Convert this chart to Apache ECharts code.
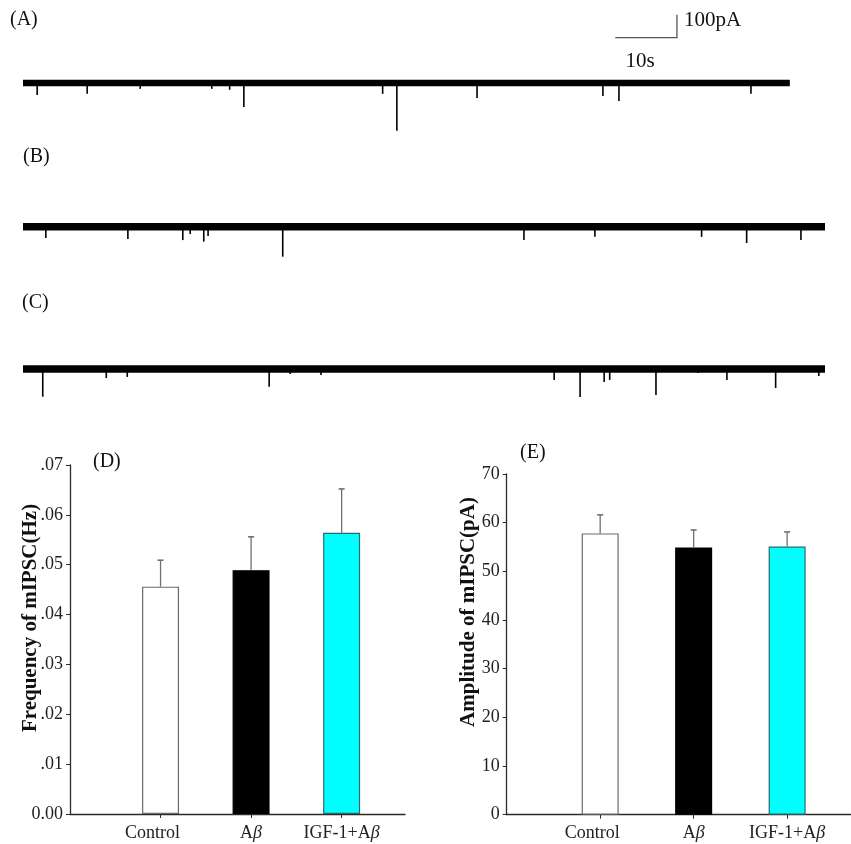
<!DOCTYPE html>
<html><head><meta charset="utf-8">
<script src="https://cdn.jsdelivr.net/npm/echarts@6/dist/echarts.min.js"></script>
<style>html,body{margin:0;padding:0;background:#fff}#c{width:851px;height:844px}</style>
</head><body><div id="c"></div>
<script>
// ---------- Trace data (time in s, event amplitude in pA, downward) ----------
const traceDurations = [124.3, 130, 130];
const traceA_times = [2.3, 10.4, 19.0, 30.6, 33.5, 35.8, 58.3, 60.6, 73.6, 94.0, 96.6, 118.0];
const traceA_amps  = [53, 48, 26, 26, 30, 106, 48, 211, 66, 57, 79, 48];
const traceB_times = [3.7, 17.0, 25.9, 27.1, 29.3, 30.0, 42.1, 81.2, 92.7, 110.0, 117.3, 126.1];
const traceB_amps  = [50, 54, 59, 32, 66, 41, 132, 59, 44, 45, 72, 59];
const traceC_times = [3.2, 13.5, 16.9, 39.9, 43.3, 48.3, 86.1, 90.3, 94.2, 95.1, 102.6, 109.4, 114.1, 122.0, 129.0];
const traceC_amps  = [122, 40, 35, 78, 22, 26, 48, 123, 57, 48, 115, 18, 48, 84, 31];
const scaleBarTime = [96, 106];   // 10 s
const scaleBarCurrent = [200, 300]; // 100 pA

// ---------- Bar chart data ----------
const categories = ['Control', 'Aβ', 'IGF-1+Aβ'];
const positions = [1, 2, 3];
const freqMean = [0.0456, 0.0489, 0.0564];
const freqSem  = [0.0053, 0.0067, 0.0088];
const ampMean  = [57.8, 54.9, 55.1];
const ampSem   = [3.8, 3.6, 3.0];
const freqTickLabels = ['0.00', '.01', '.02', '.03', '.04', '.05', '.06', '.07'];

const barFill   = ['#ffffff', '#000000', '#00ffff'];
const barBorder = ['#6a6a6a', '#000000', '#2b6b6b'];
const FONT = 'Liberation Serif';
const AX = '#2a2a2a';

const chart = echarts.init(document.getElementById('c'), null, {renderer: 'canvas'});

const traceGrids = [
  {left: 23, top: 3.5, width: 802, height: 136.2},
  {left: 23, top: 204, width: 802, height: 56.75},
  {left: 23, top: 346.3, width: 802, height: 56.75}
];
const traceYRanges = [[-250, 350], [-150, 100], [-150, 100]];
const traceTimes = [traceA_times, traceB_times, traceC_times];
const traceAmps = [traceA_amps, traceB_amps, traceC_amps];
const bandWidths = [6.5, 7.5, 7.5];

const grids = traceGrids.map(g => Object.assign({outerBoundsMode: 'none', containLabel: false}, g));
grids.push({left: 70, top: 465, width: 335, height: 349, outerBoundsMode: 'none', containLabel: false});
grids.push({left: 506.7, top: 474, width: 344, height: 340.7, outerBoundsMode: 'none', containLabel: false});

const xAxes = [], yAxes = [], series = [];
for (let i = 0; i < 3; i++) {
  xAxes.push({gridIndex: i, type: 'value', min: 0, max: 130, show: false});
  yAxes.push({gridIndex: i, type: 'value', min: traceYRanges[i][0], max: traceYRanges[i][1], show: false});
  series.push({
    type: 'line', xAxisIndex: i, yAxisIndex: i, silent: true, symbol: 'none', animation: false,
    data: [[0, 0], [traceDurations[i], 0]],
    lineStyle: {color: '#000', width: bandWidths[i], cap: 'butt'}
  });
  series.push({
    type: 'custom', xAxisIndex: i, yAxisIndex: i, silent: true, animation: false,
    encode: {x: 0, y: 1},
    data: traceTimes[i].map((t, k) => [t, traceAmps[i][k]]),
    renderItem: function (params, api) {
      const t = api.value(0), a = api.value(1);
      const p0 = api.coord([t, 0]), p1 = api.coord([t, -a]);
      return {type: 'line', shape: {x1: p0[0], y1: p0[1], x2: p1[0], y2: p1[1]},
              style: {stroke: '#000', lineWidth: 1.6}};
    }
  });
}
// scale bar in trace A coordinates
series.push({
  type: 'custom', xAxisIndex: 0, yAxisIndex: 0, silent: true, animation: false,
  encode: {x: 0, y: 1},
  data: [[scaleBarTime[0], scaleBarCurrent[0]]],
  renderItem: function (params, api) {
    const a = api.coord([scaleBarTime[0], scaleBarCurrent[0]]);
    const b = api.coord([scaleBarTime[1], scaleBarCurrent[0]]);
    const c = api.coord([scaleBarTime[1], scaleBarCurrent[1]]);
    return {type: 'polyline', shape: {points: [a, b, c]}, style: {stroke: '#555', lineWidth: 1.3, fill: null}};
  }
});

function barAxes(gi, max, yMax, yInterval, yFormatter) {
  xAxes.push({
    gridIndex: gi, type: 'value', min: 0, max: max, splitLine: {show: false},
    axisLine: {show: true, onZero: false, lineStyle: {color: AX, width: 1.3}},
    axisTick: {show: true, customValues: positions, length: 4, lineStyle: {color: AX, width: 1}},
    axisLabel: {
      customValues: positions, margin: 10, fontFamily: FONT, fontSize: 18, color: '#222',
      formatter: v => {
        const s = categories[Math.round(v) - 1] || '';
        if (s === 'Control') return '{c|' + s + '}';
        return s.replace('β', '{it|β}');
      },
      rich: {
        it: {fontFamily: FONT, fontStyle: 'italic', fontSize: 18, color: '#222'},
        c: {fontFamily: FONT, fontSize: 18, color: '#222', padding: [0, 16, 0, 0]}
      }
    }
  });
  yAxes.push({
    gridIndex: gi, type: 'value', min: 0, max: yMax, interval: yInterval, splitLine: {show: false},
    axisLine: {show: true, lineStyle: {color: AX, width: 1.3}},
    axisTick: {show: true, length: 4, lineStyle: {color: AX, width: 1}},
    axisLabel: {margin: 7, fontFamily: FONT, fontSize: 18, color: '#222', formatter: yFormatter}
  });
}
barAxes(3, 3.7, 0.07, 0.01, v => freqTickLabels[Math.round(v * 100)]);
barAxes(4, 3.68, 70, 10, v => String(Math.round(v)));

function barSeries(axisIdx, means, sems) {
  series.push({
    type: 'bar', xAxisIndex: axisIdx, yAxisIndex: axisIdx, barWidth: 37, animation: false, silent: true,
    data: positions.map((p, i) => ({value: [p, means[i]],
      itemStyle: {color: barFill[i], borderColor: barBorder[i], borderWidth: 1.2}}))
  });
  series.push({
    type: 'custom', xAxisIndex: axisIdx, yAxisIndex: axisIdx, silent: true, animation: false, z: 3,
    encode: {x: 0, y: [1, 2]},
    data: positions.map((p, i) => [p, means[i], means[i] + sems[i]]),
    renderItem: function (params, api) {
      const x = api.value(0);
      const lo = api.coord([x, api.value(1)]), hi = api.coord([x, api.value(2)]);
      return {type: 'group', children: [
        {type: 'line', shape: {x1: lo[0], y1: lo[1], x2: hi[0], y2: hi[1]}, style: {stroke: '#707070', lineWidth: 1.3}},
        {type: 'line', shape: {x1: hi[0] - 3, y1: hi[1], x2: hi[0] + 3, y2: hi[1]}, style: {stroke: '#707070', lineWidth: 1.6}}
      ]};
    }
  });
}
barSeries(3, freqMean, freqSem);
barSeries(4, ampMean, ampSem);

function txt(text, x, y, size, opts) {
  return Object.assign({type: 'text', x: x, y: y, silent: true,
    style: Object.assign({text: text, fontFamily: FONT, fontSize: size, fill: '#111',
      align: 'left', verticalAlign: 'middle'}, opts && opts.style || {})},
    opts && opts.el || {});
}

const graphic = [
  txt('(A)', 10, 20, 20),
  txt('(B)', 23, 157, 20),
  txt('(C)', 22, 303, 20),
  txt('(D)', 93, 462, 20),
  txt('(E)', 520, 453, 20),
  txt('100pA', 684, 20, 21),
  txt('10s', 640, 61, 21, {style: {align: 'center'}}),
  txt('Frequency of mIPSC(Hz)', 31, 618, 21, {style: {align: 'center', fontWeight: 'bold'}, el: {rotation: Math.PI / 2}}),
  txt('Amplitude of mIPSC(pA)', 469, 612, 21, {style: {align: 'center', fontWeight: 'bold'}, el: {rotation: Math.PI / 2}})
];

chart.setOption({
  animation: false,
  backgroundColor: '#ffffff',
  grid: grids, xAxis: xAxes, yAxis: yAxes, series: series, graphic: graphic
});
</script>
</body></html>
